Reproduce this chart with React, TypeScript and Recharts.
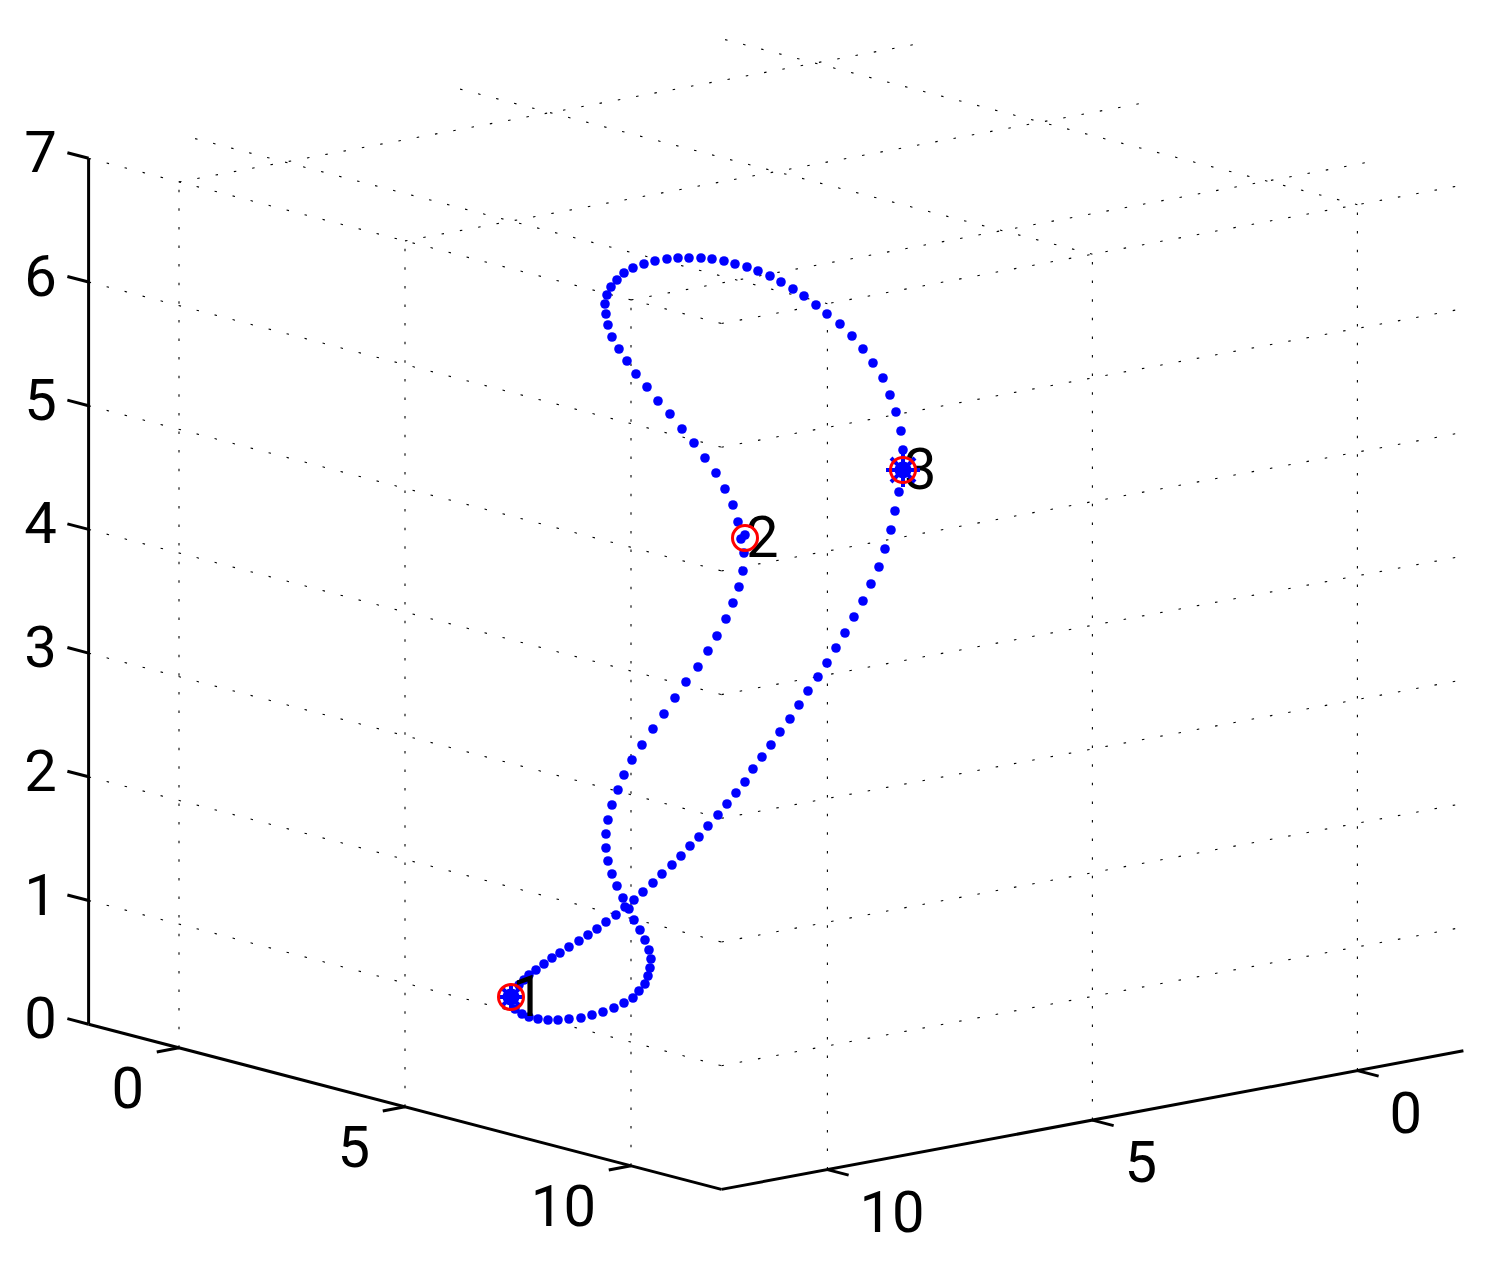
import { ScatterChart, Scatter, XAxis, YAxis, ReferenceLine } from "recharts";

const WIDTH = 1487;
const HEIGHT = 1265;

// axis values as printed on the box
const uTicks = [0, 5, 10];
const vTicks = [0, 5, 10];
const zTicks = [0, 1, 2, 3, 4, 5, 6, 7];
const LOW = -2;
const HIGH = 12;

// the curve as it reads on the picture plane, from marker 1 round to marker 1
const curveX = [
  511, 519, 524, 529, 536, 544, 552, 560, 569, 579, 588, 597, 606, 616, 629, 634,
  643, 653, 662, 672, 681, 690, 699, 708, 718, 727, 736, 745, 753, 762, 771, 780,
  790, 799, 808, 818, 827, 836, 845, 854, 863, 871, 879, 885, 891, 895, 899, 903,
  903, 901, 896, 890, 883, 873, 863, 852, 840, 827, 816, 804, 793, 781, 770, 758,
  747, 735, 724, 712, 701, 689, 678, 667, 655, 644, 633, 624, 617, 611, 607, 605,
  606, 608, 612, 619, 627, 636, 647, 658, 670, 682, 694, 705, 716, 725, 733, 738,
  745, 741, 744, 743, 739, 733, 726, 717, 708, 698, 686, 675, 664, 653, 642, 632, 624,
  618, 612, 608, 606, 606, 608, 612, 617, 623, 625, 634, 640, 645, 649, 651, 650,
  648, 645, 639, 633, 624, 614, 603, 592, 581, 569, 558, 548, 538, 529, 522, 515,
];
const curveY = [
  998, 985, 980, 975, 970, 964, 958, 953, 947, 941, 935, 929, 922, 915, 909, 900,
  892, 883, 874, 865, 856, 846, 837, 826, 815, 804, 793, 782, 769, 757, 745, 732,
  719, 705, 691, 677, 663, 648, 633, 617, 601, 584, 567, 549, 530, 511, 492, 470,
  450, 431, 412, 395, 378, 363, 349, 336, 324, 314, 305, 296, 289, 282, 276, 271,
  267, 264, 261, 259, 258, 258, 258, 259, 261, 264, 268, 273, 280, 287, 295, 304,
  314, 325, 337, 349, 361, 374, 387, 401, 414, 429, 443, 458, 473, 489, 505, 522,
  535, 539, 553, 571, 587, 603, 619, 636, 651, 667, 682, 698, 714, 729, 745, 760, 775,
  790, 805, 820, 834, 848, 861, 874, 886, 898, 907, 920, 930, 940, 950, 959, 968,
  976, 984, 991, 998, 1003, 1008, 1012, 1015, 1018, 1019, 1020, 1020, 1019, 1017, 1014, 1009,
];

const pointNames = ["1", "2", "3"];
const pointX = [511, 745, 903];
const pointY = [997, 538, 470];

// box orientation: where one unit along each axis lands on the picture plane
function project(u: number, v: number, z: number) {
  return {
    x: 815 + 45.2 * u - 53 * v,
    y: 929 + 11.8 * u + 9.9 * v - 123.7 * z,
  };
}

const curve = curveX.map((x, i) => ({ x, y: curveY[i] }));
const points = pointNames.map((name, i) => ({ name, x: pointX[i], y: pointY[i] }));

function at(p: { x: number; y: number }, dx: number, dy: number, label: string) {
  return { x: p.x + dx, y: p.y + dy, label };
}

const zLabels = zTicks.map((z) => at(project(LOW, HIGH, z), -48, 14, String(z)));
const uLabels = uTicks.map((u) => at(project(u, HIGH, 0), -35, 60, String(u)));
const vLabels = vTicks.map((v) => at(project(HIGH, v, 0), 32, 62, String(v)));

// dotted grid on the two walls and the ceiling
const gridLines = [
  ...zTicks.slice(1).flatMap((z) => [
    [project(LOW, HIGH, z), project(HIGH, HIGH, z)],
    [project(HIGH, HIGH, z), project(HIGH, LOW, z)],
  ]),
  ...uTicks.flatMap((u) => [
    [project(u, HIGH, 0), project(u, HIGH, 7)],
    [project(u, HIGH, 7), project(u, LOW, 7)],
  ]),
  ...vTicks.flatMap((v) => [
    [project(HIGH, v, 0), project(HIGH, v, 7)],
    [project(HIGH, v, 7), project(LOW, v, 7)],
  ]),
];

// solid axis lines and their ticks
const axisLines = [
  [project(LOW, HIGH, 0), project(LOW, HIGH, 7)],
  [project(LOW, HIGH, 0), project(HIGH, HIGH, 0)],
  [project(HIGH, HIGH, 0), project(HIGH, LOW, 0)],
  ...zTicks.map((z) => [project(LOW, HIGH, z), project(LOW - 0.47, HIGH, z)]),
  ...uTicks.map((u) => [project(u, HIGH, 0), project(u, HIGH + 0.42, 0)]),
  ...vTicks.map((v) => [project(HIGH, v, 0), project(HIGH + 0.47, v, 0)]),
];

function Dot(props: any) {
  return <circle cx={props.cx} cy={props.cy} r={4.8} fill="#0000ff" />;
}

function Ring(props: any) {
  return <circle cx={props.cx} cy={props.cy} r={12.5} fill="none" stroke="#ff0000" strokeWidth={3} />;
}

function starShape(radius: number) {
  return (props: any) => {
    const spokes = [0, 45, 90, 135, 180, 225, 270, 315];
    return (
      <g>
        <circle cx={props.cx} cy={props.cy} r={8.5} fill="#0000ff" />
        {spokes.map((deg) => (
          <line
            key={deg}
            x1={props.cx}
            y1={props.cy}
            x2={props.cx + radius * Math.cos((deg * Math.PI) / 180)}
            y2={props.cy + radius * Math.sin((deg * Math.PI) / 180)}
            stroke="#0000ff"
            strokeWidth={4}
          />
        ))}
      </g>
    );
  };
}

function labelShape(anchor: string) {
  return (props: any) => (
    <text
      x={props.cx}
      y={props.cy}
      textAnchor={anchor}
      fontFamily="Roboto"
      fontSize={58}
      fill="#000"
    >
      {props.payload.label}
    </text>
  );
}

const pointLabels = points.map((p) => at(p, 1, 19, p.name));

export default function App() {
  return (
    <div style={{ position: "absolute", left: 0, top: 0, width: WIDTH, height: HEIGHT }}>
      <ScatterChart width={WIDTH} height={HEIGHT} margin={{ top: 0, right: 0, bottom: 0, left: 0 }}>
        <XAxis type="number" dataKey="x" domain={[0, WIDTH]} hide />
        <YAxis type="number" dataKey="y" domain={[0, HEIGHT]} reversed hide />
        {gridLines.map((seg, i) => (
          <ReferenceLine
            key={"grid" + i}
            segment={seg}
            stroke="#000"
            strokeWidth={1.1}
            strokeDasharray="2.5 16.1"
            ifOverflow="visible"
          />
        ))}
        {axisLines.map((seg, i) => (
          <ReferenceLine
            key={"axis" + i}
            segment={seg}
            stroke="#000"
            strokeWidth={3}
            ifOverflow="visible"
          />
        ))}
        <Scatter data={zLabels} shape={labelShape("middle")} isAnimationActive={false} />
        <Scatter data={uLabels} shape={labelShape("end")} isAnimationActive={false} />
        <Scatter data={vLabels} shape={labelShape("start")} isAnimationActive={false} />
        <Scatter data={curve} shape={Dot} isAnimationActive={false} />
        <Scatter data={pointLabels} shape={labelShape("start")} isAnimationActive={false} />
        <Scatter data={[points[0]]} shape={starShape(12)} isAnimationActive={false} />
        <Scatter data={[points[2]]} shape={starShape(17)} isAnimationActive={false} />
        <Scatter data={points} shape={Ring} isAnimationActive={false} />
      </ScatterChart>
    </div>
  );
}
